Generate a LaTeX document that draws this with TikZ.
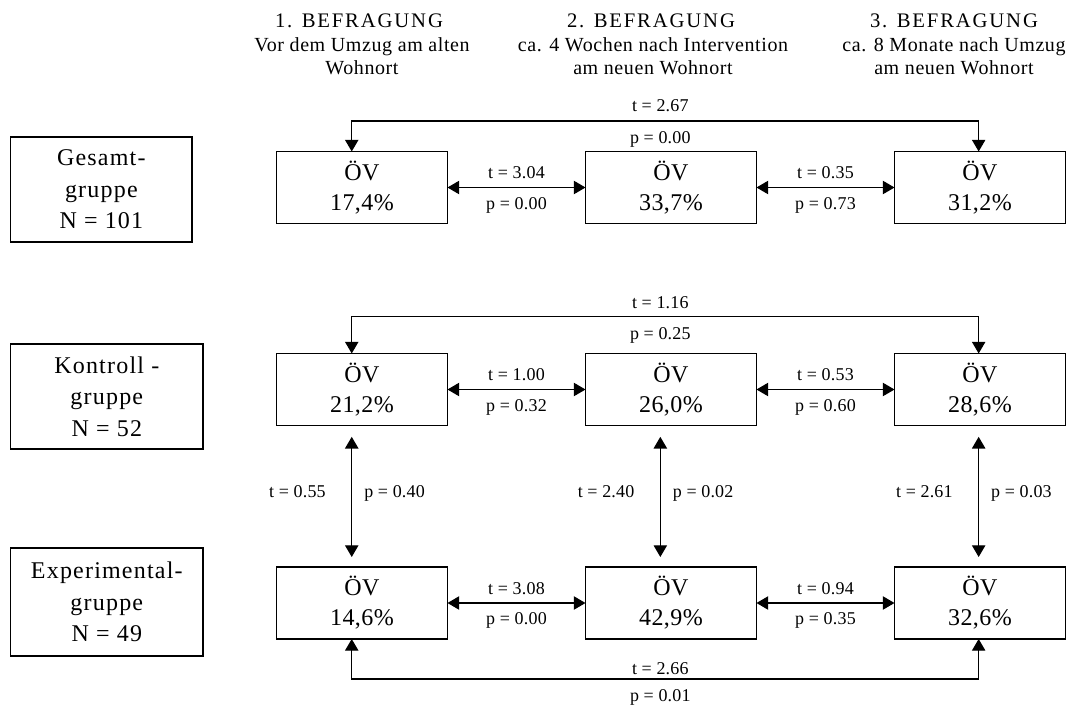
\documentclass[tikz,border=0pt]{standalone}
\usepackage{fontspec}
\setmainfont{Liberation Serif}
\usetikzlibrary{arrows.meta}
\begin{document}
\begin{tikzpicture}[x=0.75pt,y=-0.75pt,
  every node/.style={inner sep=0pt, outer sep=0pt},
  ovbox/.style={draw, line width=0.9pt, minimum width=128.25pt, minimum height=54pt, align=center,
    font=\fontsize{18}{22.5}\selectfont\addfontfeature{LetterSpace=2}},
  grpbox/.style={draw, line width=0.9pt, align=center,
    font=\fontsize{18}{23.5}\selectfont\addfontfeature{LetterSpace=5}},
  stat/.style={font=\fontsize{13.5}{16}\selectfont\addfontfeature{LetterSpace=1},
    text height=9.2pt, text depth=2.8pt},
  headtitle/.style={font=\fontsize{15.5}{18}\selectfont\addfontfeature{LetterSpace=9}},
  headsub/.style={align=center, font=\fontsize{15}{17.25}\selectfont\addfontfeature{LetterSpace=3}},
  link/.style={line width=0.9pt, {Triangle[length=8.75pt,width=10pt]}-{Triangle[length=8.75pt,width=10pt]}},
]
\useasboundingbox (0,0) rectangle (1076,707);

% column headings
\node[headtitle] (t1) at (359,21) {1. BEFRAGUNG};
\node[headsub] (s1) at (362,56) {Vor dem Umzug am alten\\Wohnort};
\node[headtitle] (t2) at (651,21) {2. BEFRAGUNG};
\node[headsub] (s2) at (653,56) {ca. 4 Wochen nach Intervention\\am neuen Wohnort};
\node[headtitle] (t3) at (954,21) {3. BEFRAGUNG};
\node[headsub] (s3) at (954,56) {ca. 8 Monate nach Umzug\\am neuen Wohnort};

% group labels
\node[grpbox, minimum width=136pt, minimum height=78.75pt] (g1) at (101.35,189.5) {Gesamt-\\gruppe\\N = 101};
\node[grpbox, minimum width=144.15pt, minimum height=78.75pt] (g2) at (106.8,396.5) {Kontroll -\\gruppe\\N = 52};
\node[grpbox, minimum width=144.15pt, minimum height=81pt] (g3) at (106.8,602) {Experimental-\\gruppe\\N = 49};

% share of public transport per group and survey
\node[ovbox] (a1) at (362,187.5) {ÖV\\17,4\%};
\node[ovbox] (a2) at (671,187.5) {ÖV\\33,7\%};
\node[ovbox] (a3) at (980,187.5) {ÖV\\31,2\%};

\node[ovbox] (b1) at (362,389.5) {ÖV\\21,2\%};
\node[ovbox] (b2) at (671,389.5) {ÖV\\26,0\%};
\node[ovbox] (b3) at (980,389.5) {ÖV\\28,6\%};

\node[ovbox] (c1) at (362,603) {ÖV\\14,6\%};
\node[ovbox] (c2) at (671,603) {ÖV\\42,9\%};
\node[ovbox] (c3) at (980,603) {ÖV\\32,6\%};

% comparisons between neighbouring surveys
\tikzset{tlab/.style={stat, yshift=9.85pt}, plab/.style={stat, yshift=-13pt}}
\draw[link] (a1.east) -- node[tlab] {t = 3.04} node[plab] {p = 0.00} (a2.west);
\draw[link] (a2.east) -- node[tlab] {t = 0.35} node[plab] {p = 0.73} (a3.west);
\draw[link] (b1.east) -- node[tlab] {t = 1.00} node[plab] {p = 0.32} (b2.west);
\draw[link] (b2.east) -- node[tlab] {t = 0.53} node[plab] {p = 0.60} (b3.west);
\draw[link] (c1.east) -- node[tlab] {t = 3.08} node[plab] {p = 0.00} (c2.west);
\draw[link] (c2.east) -- node[tlab] {t = 0.94} node[plab] {p = 0.35} (c3.west);

% comparisons between first and third survey
\draw[link] ([xshift=-7.7pt]a1.north) -- ++(0,-30.5) -| ([xshift=-1pt]a3.north);
\node[stat] (a13t) at ([xshift=-8pt,yshift=33.5pt]a2.north) {t = 2.67};
\node[stat] (a13p) at ([xshift=-8pt,yshift=9.4pt]a2.north) {p = 0.00};

\draw[link] ([xshift=-7.7pt]b1.north) -- ++(0,-36.8) -| ([xshift=-1pt]b3.north);
\node[stat] (b13t) at ([xshift=-8pt,yshift=37.2pt]b2.north) {t = 1.16};
\node[stat] (b13p) at ([xshift=-8pt,yshift=13.9pt]b2.north) {p = 0.25};

\draw[link] ([xshift=-7.7pt]c1.south) -- ++(0,40) -| ([xshift=-1pt]c3.south);
\node[stat] (c13t) at ([xshift=-8pt,yshift=-23.15pt]c2.south) {t = 2.66};
\node[stat] (c13p) at ([xshift=-8pt,yshift=-43.5pt]c2.south) {p = 0.01};

% comparisons between control and experimental group
\tikzset{vtlab/.style={stat, pos=0.48, anchor=east, xshift=-19.5pt},
         vplab/.style={stat, pos=0.48, anchor=west, xshift=9.4pt}}
\draw[link, shorten <=8.5pt, shorten >=7.5pt] ([xshift=-7.7pt]b1.south) -- ([xshift=-7.7pt]c1.north)
  node[vtlab] {t = 0.55} node[vplab] {p = 0.40};
\draw[link, shorten <=8.5pt, shorten >=7.5pt] ([xshift=-8pt]b2.south) -- ([xshift=-8pt]c2.north)
  node[vtlab] {t = 2.40} node[vplab] {p = 0.02};
\draw[link, shorten <=8.5pt, shorten >=7.5pt] ([xshift=-1pt]b3.south) -- ([xshift=-1pt]c3.north)
  node[vtlab] {t = 2.61} node[vplab] {p = 0.03};
\end{tikzpicture}
\end{document}
